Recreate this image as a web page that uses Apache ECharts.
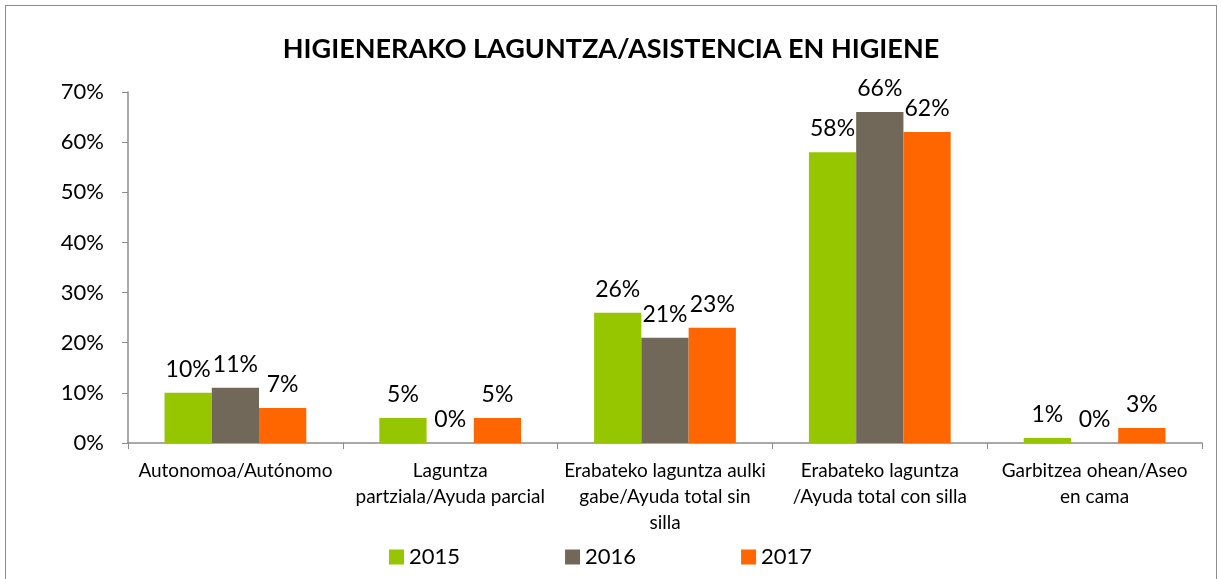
<!DOCTYPE html>
<html>
<head>
<meta charset="utf-8">
<script src="https://cdn.jsdelivr.net/npm/echarts@6/dist/echarts.min.js"></script>
<style>
  html, body { margin: 0; padding: 0; background: #fff; }
  #frame { position: absolute; left: 5px; top: 5px; width: 1212px; height: 580px; border: 1px solid #8c8c8c; box-sizing: border-box; }
  #chart { position: absolute; left: 0; top: 0; width: 1222px; height: 579px; }
</style>
</head>
<body>
<div id="frame"></div>
<div id="chart"></div>
<script>
const categories = [
  'Autonomoa/Autónomo',
  'Laguntza\npartziala/Ayuda parcial',
  'Erabateko laguntza aulki\ngabe/Ayuda total sin\nsilla',
  'Erabateko laguntza\n/Ayuda total con silla',
  'Garbitzea ohean/Aseo\nen cama'
]
const years = ['2015', '2016', '2017']
const values2015 = [10, 5, 26, 58, 1]
const values2016 = [11, 0, 21, 66, 0]
const values2017 = [7, 5, 23, 62, 3]
const yTicks = [0, 10, 20, 30, 40, 50, 60, 70]

const colors = ['#95c600', '#72685a', '#ff6600']
const font = 'Lato, "Open Sans", sans-serif'

const chart = echarts.init(document.getElementById('chart'))

function bar (name, data) {
  return {
    name: name,
    type: 'bar',
    data: data,
    barGap: '0%',
    barCategoryGap: '34%',
    animation: false,
    label: {
      show: true,
      position: 'top',
      distance: 12,
      formatter: '{c}%',
      color: '#000',
      fontSize: 23,
      fontFamily: font
    }
  }
}

chart.setOption({
  color: colors,
  title: {
    text: 'HIGIENERAKO LAGUNTZA/ASISTENCIA EN HIGIENE',
    left: 'center',
    top: 31,
    textStyle: { fontSize: 27, fontWeight: 'bold', color: '#000', fontFamily: font }
  },
  legend: {
    data: years,
    bottom: 6,
    left: 384,
    itemGap: 105,
    itemWidth: 15,
    itemHeight: 15,
    icon: 'rect',
    textStyle: { fontSize: 22, color: '#000', fontFamily: font }
  },
  grid: { left: 128, right: 20, top: 92, bottom: 136 },
  xAxis: {
    type: 'category',
    data: categories,
    axisLine: { lineStyle: { color: '#8c8c8c', width: 1.5 } },
    axisTick: { show: true, length: 6, lineStyle: { color: '#8c8c8c' } },
    axisLabel: { interval: 0, margin: 15, fontSize: 19, lineHeight: 26, color: '#000', fontFamily: font }
  },
  yAxis: {
    type: 'value',
    min: yTicks[0],
    max: yTicks[yTicks.length - 1],
    interval: 10,
    splitLine: { show: false },
    axisLine: { show: true, lineStyle: { color: '#8c8c8c', width: 1.5 } },
    axisTick: { show: true, length: 6, lineStyle: { color: '#8c8c8c' } },
    axisLabel: { formatter: '{value}%', margin: 24, fontSize: 22, color: '#000', fontFamily: font }
  },
  series: [
    bar(years[0], values2015),
    bar(years[1], values2016),
    bar(years[2], values2017)
  ]
})
</script>
</body>
</html>
